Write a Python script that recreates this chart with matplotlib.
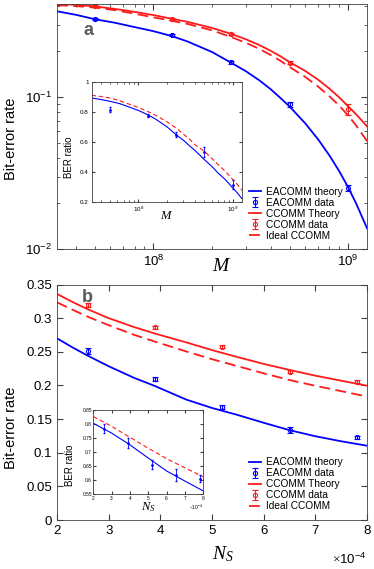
import numpy as np
import matplotlib.pyplot as plt
from matplotlib.ticker import FixedLocator, FuncFormatter

plt.rcParams['font.family'] = ['Liberation Sans', 'DejaVu Sans']
plt.rcParams['mathtext.fontset'] = 'custom'
plt.rcParams['mathtext.it'] = 'Liberation Serif:italic'
plt.rcParams['mathtext.rm'] = 'Liberation Serif'

# ---- panel a : BER vs M ----
M_data = [5e7, 1.25e8, 2.5e8, 5e8, 1e9]
ber_ea_M = [0.326, 0.256, 0.169, 0.0895, 0.0253]
err_ea_M = [0.006, 0.005, 0.004, 0.0035, 0.0012]
ber_cc_M = [0.397, 0.326, 0.260, 0.168, 0.083]
err_cc_M = [0.007, 0.006, 0.004, 0.004, 0.0065]

M_curve = [3.2e7, 4e7, 5e7, 6.3e7, 7.9e7, 1e8, 1.25e8, 1.5e8, 2e8, 2.5e8, 3e8,
           3.5e8, 4e8, 4.5e8, 5e8, 6e8, 7e8, 8e8, 9e8, 1e9, 1.1e9, 1.25e9]
ea_theory_M = [0.367, 0.348, 0.3255, 0.309, 0.290, 0.2716, 0.2515, 0.232, 0.198, 0.1686, 0.1474,
               0.1288, 0.1127, 0.0984, 0.0867, 0.0675, 0.0528, 0.0414, 0.0325, 0.02547, 0.01986, 0.01368]
cc_theory_M = [0.410, 0.405, 0.3954, 0.381, 0.3648, 0.3467, 0.3273, 0.3126, 0.285, 0.261, 0.2395,
               0.2198, 0.2018, 0.1853, 0.170, 0.149, 0.1303, 0.1138, 0.0995, 0.0869, 0.0769, 0.0641]
cc_ideal_M = [0.403, 0.397, 0.3886, 0.374, 0.355, 0.335, 0.317, 0.303, 0.2748, 0.2489, 0.227,
              0.2075, 0.1892, 0.173, 0.1578, 0.1361, 0.1175, 0.1014, 0.0877, 0.0757, 0.0649, 0.0513]

# inset a : BER ratio
ratio_M_data = [0.815, 0.775, 0.649, 0.533, 0.315]
ratio_M_err = [0.015, 0.01, 0.015, 0.033, 0.03]
ratio_ea_M = [0.893, 0.883, 0.871, 0.856, 0.834, 0.810, 0.782, 0.755, 0.702, 0.649, 0.611,
              0.573, 0.541, 0.511, 0.482, 0.437, 0.392, 0.360, 0.326, 0.293, 0.265, 0.222]
ratio_ideal_M = [0.911, 0.903, 0.893, 0.876, 0.853, 0.830, 0.804, 0.780, 0.735, 0.693, 0.652,
                 0.617, 0.580, 0.558, 0.538, 0.490, 0.449, 0.415, 0.381, 0.349, 0.322, 0.278]

# ---- panel b : BER vs N_S ----
Ns_data = [2.6e-4, 3.9e-4, 5.2e-4, 6.5e-4, 7.8e-4]
ber_ea_N = [0.251, 0.2095, 0.1675, 0.1337, 0.1229]
err_ea_N = [0.005, 0.003, 0.003, 0.004, 0.002]
ber_cc_N = [0.319, 0.2864, 0.2576, 0.2204, 0.2055]
err_cc_N = [0.003, 0.002, 0.002, 0.002, 0.002]

Ns_curve = [2e-4, 2.3e-4, 2.6e-4, 3e-4, 3.5e-4, 3.9e-4, 4.5e-4, 5e-4,
            5.5e-4, 6e-4, 6.5e-4, 7e-4, 7.5e-4, 8e-4]
ea_theory_N = [0.270, 0.2565, 0.244, 0.2285, 0.211, 0.199, 0.179, 0.1665,
               0.156, 0.1445, 0.1335, 0.1245, 0.117, 0.1104]
cc_theory_N = [0.336, 0.324, 0.313, 0.300, 0.2865, 0.277, 0.264, 0.2525,
               0.242, 0.232, 0.223, 0.2145, 0.207, 0.1996]
cc_ideal_N = [0.3235, 0.3125, 0.302, 0.2895, 0.275, 0.265, 0.2505, 0.239,
              0.2285, 0.218, 0.208, 0.1995, 0.1915, 0.1835]

# inset b
Ns_inset = [2e-4, 3e-4, 4e-4, 5e-4, 6e-4, 7e-4, 8e-4]
ratio_ea_N = [0.803, 0.768, 0.726, 0.679, 0.633, 0.597, 0.562]
ratio_ideal_N = [0.827, 0.792, 0.753, 0.714, 0.677, 0.644, 0.612]
ratio_N_data = [0.784, 0.732, 0.655, 0.618, 0.606]
ratio_N_err = [0.016, 0.018, 0.016, 0.022, 0.012]

BLUE = '#0000ff'
RED = '#ff1a1a'
AXC = '#404040'


def style(ax, size):
    ax.tick_params(which='both', direction='in', top=True, right=True,
                   colors=AXC, labelcolor='black', labelsize=size)
    for s in ax.spines.values():
        s.set_color(AXC)
        s.set_linewidth(0.6)


def main_panel(ax, x, ea, cc, ideal, xd, bea, eea, bcc, ecc):
    h1, = ax.plot(x, ea, color=BLUE, lw=1.3)
    h2 = ax.errorbar(xd, bea, yerr=eea, fmt='o', color=BLUE, mfc='none',
                     ms=3, mew=0.8, elinewidth=0.8, capsize=2)
    h3, = ax.plot(x, cc, color=RED, lw=1.3)
    h4 = ax.errorbar(xd, bcc, yerr=ecc, fmt='o', color=RED, mfc='none',
                     ms=3, mew=0.8, elinewidth=0.8, capsize=2)
    h5, = ax.plot(x, ideal, color=RED, lw=1.3, ls=(0, (6, 3)))
    return [h1, h2, h3, h4, h5]


labels = ['EACOMM theory', 'EACOMM data', 'CCOMM Theory', 'CCOMM data', 'Ideal CCOMM']
leg_kw = dict(loc='upper left', frameon=False, fontsize=7.3, handlelength=1.2,
              handletextpad=0.45, labelspacing=0.1, borderpad=0, borderaxespad=0)
sci = FuncFormatter(lambda v, p: f'{v * 1e4:g}')

fig = plt.figure(figsize=(3.74, 5.69), dpi=100)

# ---------- panel a ----------
ax1 = fig.add_axes([0.1524, 0.5624, 0.829, 0.4306])
hs = main_panel(ax1, M_curve, ea_theory_M, cc_theory_M, cc_ideal_M,
                M_data, ber_ea_M, err_ea_M, ber_cc_M, err_cc_M)
ax1.set_xscale('log')
ax1.set_yscale('log')
ax1.set_xlim(3.2e7, 1.25e9)
ax1.set_ylim(0.01, 0.41)
style(ax1, 9.5)
ax1.tick_params(which='major', length=4)
ax1.tick_params(which='minor', length=2)
ax1.set_ylabel('Bit-error rate', fontsize=10.5)
ax1.set_xlabel('$M$', fontsize=14)
ax1.xaxis.set_label_coords(0.53, -0.035)
ax1.yaxis.set_label_coords(-0.125, 0.45)
ax1.text(0.084, 0.873, 'a', transform=ax1.transAxes, fontsize=13,
         fontweight='bold', color='#5a5a5a')
ax1.legend(hs, labels, bbox_to_anchor=(0.62, 0.255), **leg_kw)

ins1 = fig.add_axes([0.245, 0.645, 0.402, 0.211])
ins1.plot(M_curve, ratio_ea_M, color=BLUE, lw=0.8)
ins1.plot(M_curve, ratio_ideal_M, color=RED, lw=0.8, ls=(0, (4, 2.5)))
ins1.errorbar(M_data, ratio_M_data, yerr=ratio_M_err, fmt='.', color=BLUE,
              ms=2, elinewidth=0.6, capsize=1)
ins1.set_xscale('log')
ins1.set_xlim(3.2e7, 1.25e9)
ins1.set_ylim(0.2, 1)
ins1.yaxis.set_major_locator(FixedLocator([0.2, 0.4, 0.6, 0.8, 1.0]))
ins1.set_yticklabels(['0.2', '0.4', '0.6', '0.8', '1'])
style(ins1, 4.5)
ins1.tick_params(which='major', length=2.5, pad=2)
ins1.tick_params(which='minor', length=1.3)
ins1.set_ylabel('BER ratio', fontsize=7)
ins1.yaxis.set_label_coords(-0.12, 0.37)
ins1.set_xlabel('$M$', fontsize=9)
ins1.xaxis.set_label_coords(0.5, -0.065)

# ---------- panel b ----------
ax2 = fig.add_axes([0.1524, 0.0861, 0.829, 0.4139])
hs = main_panel(ax2, Ns_curve, ea_theory_N, cc_theory_N, cc_ideal_N,
                Ns_data, ber_ea_N, err_ea_N, ber_cc_N, err_cc_N)
ax2.set_xlim(2e-4, 8e-4)
ax2.set_ylim(0, 0.35)
ax2.set_yticks(np.arange(0, 0.351, 0.05))
ax2.set_yticklabels(['0', '0.05', '0.1', '0.15', '0.2', '0.25', '0.3', '0.35'])
ax2.xaxis.set_major_formatter(sci)
style(ax2, 9.5)
ax2.tick_params(which='major', length=4)
ax2.text(1.0, -0.135, r'$\times\mathdefault{10^{-4}}$', transform=ax2.transAxes,
         fontsize=9.5, ha='right', va='top')
ax2.set_ylabel('Bit-error rate', fontsize=10.5)
ax2.set_xlabel('$N_S$', fontsize=14)
ax2.xaxis.set_label_coords(0.535, -0.105)
ax2.yaxis.set_label_coords(-0.125, 0.39)
ax2.text(0.081, 0.927, 'b', transform=ax2.transAxes, fontsize=13,
         fontweight='bold', color='#5a5a5a')
ax2.legend(hs, labels, bbox_to_anchor=(0.62, 0.266), **leg_kw)

ins2 = fig.add_axes([0.2495, 0.1313, 0.294, 0.148])
ins2.plot(Ns_inset, ratio_ea_N, color=BLUE, lw=0.8)
ins2.plot(Ns_inset, ratio_ideal_N, color=RED, lw=0.8, ls=(0, (4, 2.5)))
ins2.errorbar(Ns_data, ratio_N_data, yerr=ratio_N_err, fmt='.', color=BLUE,
              ms=2, elinewidth=0.6, capsize=1)
ins2.set_xlim(2e-4, 8e-4)
ins2.set_ylim(0.55, 0.85)
ins2.set_yticks(np.arange(0.55, 0.851, 0.05))
ins2.set_yticklabels(['0.55', '0.6', '0.65', '0.7', '0.75', '0.8', '0.85'])
ins2.xaxis.set_major_formatter(sci)
style(ins2, 3.5)
ins2.tick_params(which='major', length=2, pad=1)
ins2.text(1.0, -0.1, r'$\times\mathdefault{10^{-4}}$', transform=ins2.transAxes,
          fontsize=3.5, ha='right', va='top')
ins2.set_ylabel('BER ratio', fontsize=7)
ins2.yaxis.set_label_coords(-0.17, 0.35)
ins2.set_xlabel('$N_S$', fontsize=9)
ins2.xaxis.set_label_coords(0.5, -0.075)

fig.savefig('out.png', dpi=100)
